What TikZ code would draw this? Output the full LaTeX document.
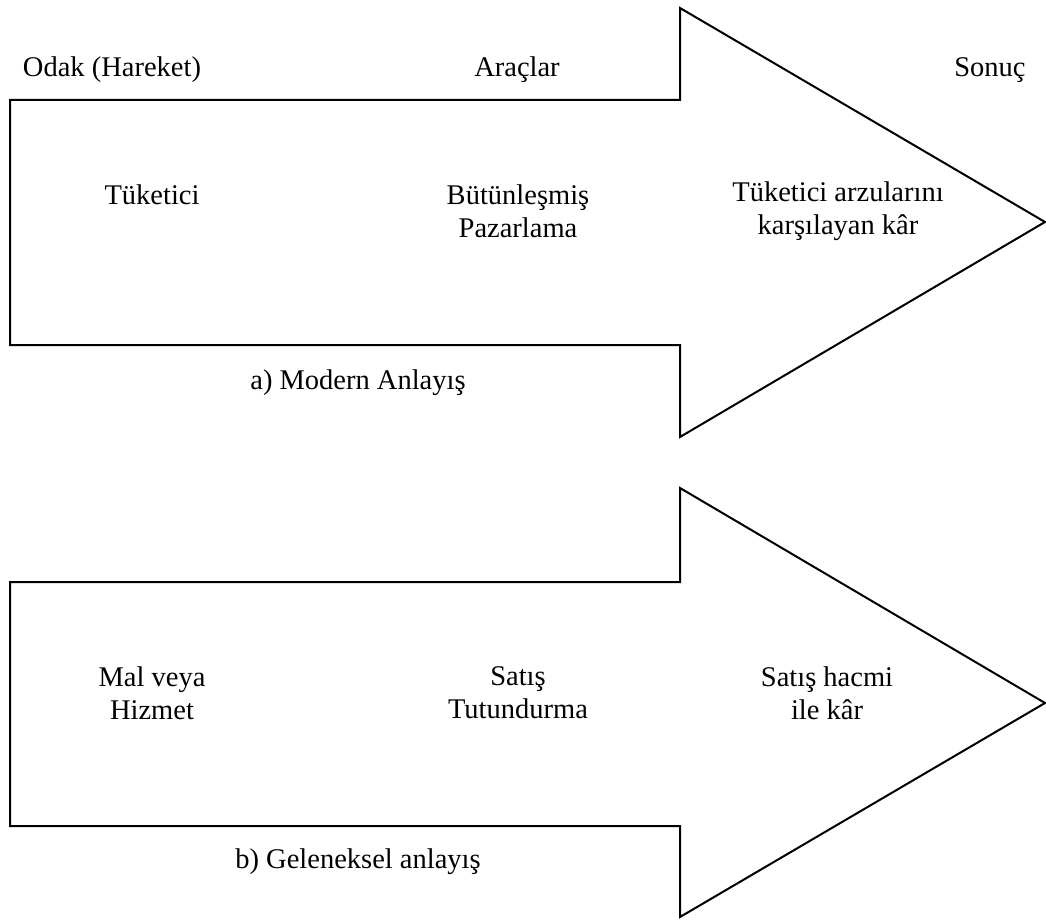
\documentclass[tikz,border=0pt]{standalone}
\usepackage{fontspec}
\setmainfont{Liberation Serif}
\begin{document}
\begin{tikzpicture}[x=1pt,y=-1pt,
  arrowshape/.style={draw=black,line width=2pt,line join=miter},
  lbl/.style={font=\fontsize{28.5}{33}\selectfont,align=center,inner sep=0pt,text=black}]
\useasboundingbox (0,0) rectangle (1046,920);
% arrow a
\draw[arrowshape] (10,100) -- (680,100) -- (680,8) -- (1045,222) -- (680,437) -- (680,345) -- (10,345) -- cycle;
% arrow b
\draw[arrowshape] (10,582) -- (680,582) -- (680,488) -- (1045,703) -- (680,917) -- (680,826) -- (10,826) -- cycle;
\node[lbl] (odak) at (112,70) {Odak (Hareket)};
\node[lbl] (arac) at (517,70) {Araçlar};
\node[lbl] (sonuc) at (990,70) {Sonuç};
\node[lbl] (tuk) at (152,195) {Tüketici};
\node[lbl] (butun) at (518,211) {Bütünleşmiş\\Pazarlama};
\node[lbl] (arzu) at (838,211) {Tüketici arzularını\\karşılayan kâr};
\node[lbl] (modern) at (358,383) {a) Modern Anlayış};
\node[lbl] (mal) at (152,693) {Mal veya\\Hizmet};
\node[lbl] (satis) at (518,693) {Satış\\Tutundurma};
\node[lbl] (hacim) at (827,693) {Satış hacmi\\ile kâr};
\node[lbl] (gelen) at (358,862) {b) Geleneksel anlayış};
\end{tikzpicture}
\end{document}
